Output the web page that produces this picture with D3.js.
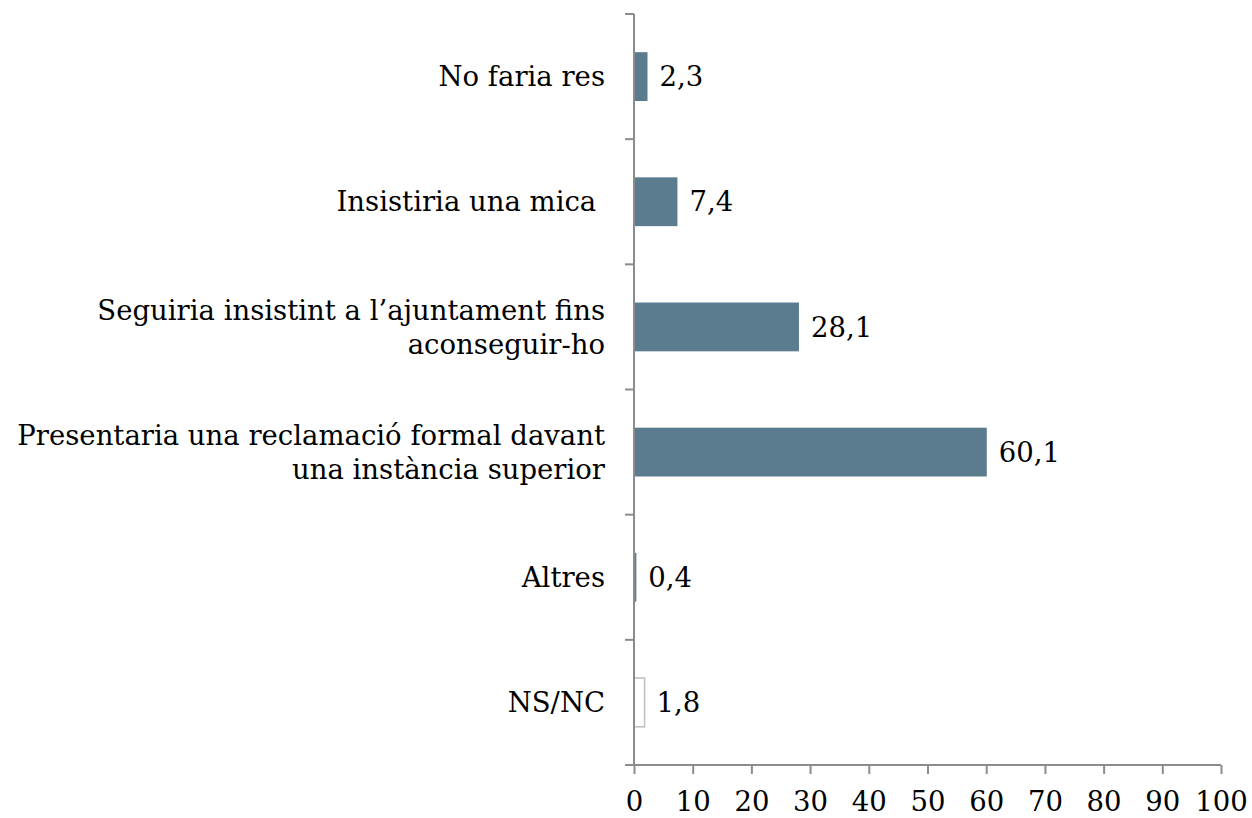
<!DOCTYPE html>
<html>
<head>
<meta charset="utf-8">
<script src="https://cdn.jsdelivr.net/npm/d3@7"></script>
<style>
  body { margin: 0; background: #fff; }
  text { font-family: "DejaVu Serif", Georgia, serif; fill: #000; }
</style>
</head>
<body>
<svg id="chart" width="1252" height="818"></svg>
<script>
var categories = [
  ["No faria res"],
  ["Insistiria una mica "],
  ["Seguiria insistint a l\u2019ajuntament fins", "aconseguir-ho"],
  ["Presentaria una reclamació formal davant", "una instància superior"],
  ["Altres"],
  ["NS/NC"]
];
var values = [2.3, 7.4, 28.1, 60.1, 0.4, 1.8];
var valueLabels = ["2,3", "7,4", "28,1", "60,1", "0,4", "1,8"];
var xTicks = [0, 10, 20, 30, 40, 50, 60, 70, 80, 90, 100];

var svg = d3.select("#chart");
var plotLeft = 634, plotRight = 1221, plotTop = 14, plotBottom = 765;
var axisColor = "#8c8c8c";
var barColor = "#5b7c8f";
var fontSize = 27.5;

var x = d3.scaleLinear().domain([0, 100]).range([plotLeft, plotRight]);
var y = d3.scaleBand().domain(d3.range(categories.length)).range([plotTop, plotBottom]).paddingInner(0.61).paddingOuter(0.305);

// bars
svg.selectAll("rect.bar")
  .data(values)
  .join("rect")
  .attr("class", "bar")
  .attr("x", x(0))
  .attr("y", (d, i) => y(i))
  .attr("width", d => x(d) - x(0))
  .attr("height", y.bandwidth())
  .attr("fill", (d, i) => i === 5 ? "#fff" : barColor)
  .attr("stroke", (d, i) => i === 5 ? "#bdbdbd" : "none")
  .attr("stroke-width", 1.5);

// value labels
svg.selectAll("text.val")
  .data(values)
  .join("text")
  .attr("class", "val")
  .attr("x", d => x(d) + 12)
  .attr("y", (d, i) => y(i) + y.bandwidth() / 2)
  .attr("dy", "0.35em")
  .style("font-size", fontSize + "px")
  .text((d, i) => valueLabels[i]);

// category labels
var lineH = 34;
svg.selectAll("text.cat")
  .data(categories)
  .join("text")
  .attr("class", "cat")
  .attr("text-anchor", "end")
  .style("white-space", "pre")
  .style("font-size", fontSize + "px")
  .each(function (lines, i) {
    var cy = y(i) + y.bandwidth() / 2;
    var t = d3.select(this);
    lines.forEach((ln, j) => {
      t.append("tspan")
        .attr("x", plotLeft - 29)
        .attr("y", cy + (j - (lines.length - 1) / 2) * lineH)
        .attr("dy", "0.35em")
        .text(ln);
    });
  });

// y axis with band boundary ticks
var g = svg.append("g");
g.append("line")
  .attr("x1", plotLeft).attr("x2", plotLeft)
  .attr("y1", plotTop).attr("y2", plotBottom)
  .attr("stroke", axisColor).attr("stroke-width", 2);
var bounds = d3.range(categories.length + 1).map(i => plotTop + i * (plotBottom - plotTop) / categories.length);
g.selectAll("line.ytick")
  .data(bounds)
  .join("line")
  .attr("class", "ytick")
  .attr("x1", plotLeft - 9).attr("x2", plotLeft)
  .attr("y1", d => d).attr("y2", d => d)
  .attr("stroke", axisColor).attr("stroke-width", 2);

// x axis
var xAxis = d3.axisBottom(x).tickValues(xTicks).tickSize(9).tickPadding(17).tickFormat(d3.format("d"));
var xg = svg.append("g")
  .attr("transform", "translate(0," + plotBottom + ")")
  .call(xAxis);
xg.select(".domain").attr("stroke", axisColor).attr("stroke-width", 2).attr("d", "M" + (plotLeft - 9) + ",0H" + plotRight);
xg.selectAll(".tick line").attr("stroke", axisColor).attr("stroke-width", 2);
xg.selectAll(".tick text")
  .style("font-family", "\"DejaVu Serif\", Georgia, serif")
  .style("font-size", fontSize + "px")
  .attr("fill", "#000");
</script>
</body>
</html>
